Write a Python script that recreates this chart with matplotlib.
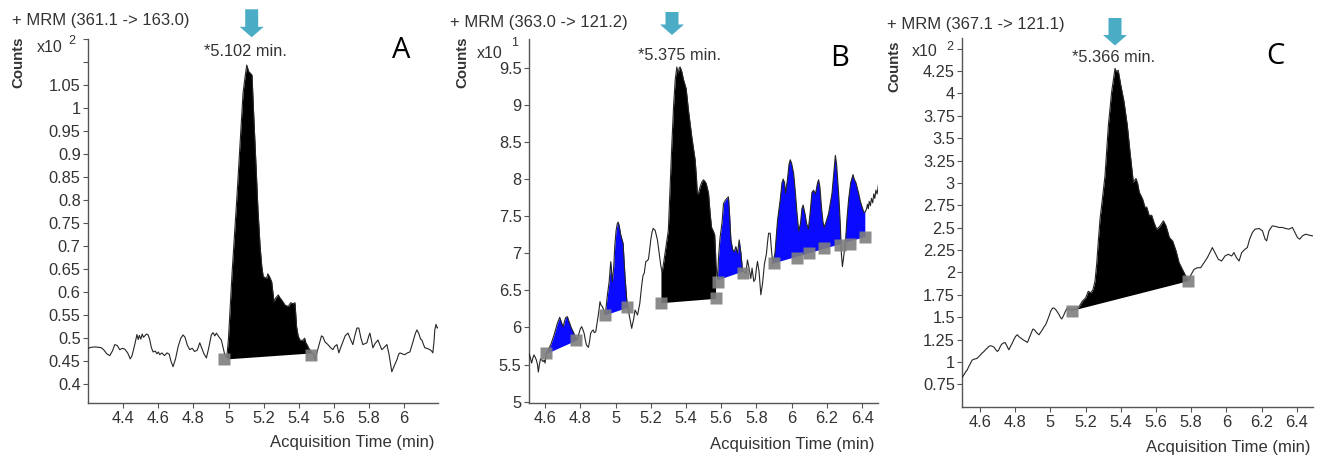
import numpy as np
import matplotlib
matplotlib.use('Agg')
import matplotlib.pyplot as plt
from matplotlib.patches import Polygon

plt.rcParams['font.family'] = ['Liberation Sans', 'DejaVu Sans']

# Figure size in pixels (dpi 100)
W, H = 1322, 458

# ---------------- Panel A : + MRM (361.1 -> 163.0) ----------------
a_time = [4.200, 4.215, 4.240, 4.262, 4.276, 4.290, 4.306, 4.323, 4.338, 4.352,
          4.366, 4.380, 4.395, 4.409, 4.425, 4.440, 4.450, 4.465, 4.478, 4.485,
          4.492, 4.500, 4.508, 4.515, 4.523, 4.532, 4.542, 4.550, 4.560, 4.570,
          4.582, 4.592, 4.600, 4.608, 4.620, 4.635, 4.650, 4.662, 4.672, 4.684,
          4.698, 4.713, 4.728, 4.741, 4.752, 4.765, 4.779, 4.793, 4.807, 4.822,
          4.836, 4.848, 4.860, 4.874, 4.888, 4.902, 4.912, 4.922, 4.931, 4.945,
          4.959, 4.970, 4.980, 4.990,
          5.000, 5.009, 5.020, 5.037, 5.050, 5.066, 5.083, 5.095, 5.104, 5.115,
          5.123, 5.134, 5.142, 5.151, 5.160, 5.168, 5.180, 5.190, 5.198, 5.208,
          5.217, 5.224, 5.232, 5.246, 5.259, 5.270, 5.284, 5.293, 5.303, 5.312,
          5.322, 5.341, 5.354, 5.368, 5.379, 5.388, 5.397, 5.407, 5.422, 5.434,
          5.441, 5.449, 5.457, 5.464, 5.475, 5.483, 5.493,
          5.505, 5.521, 5.530, 5.538, 5.550, 5.567, 5.580, 5.595, 5.605, 5.618,
          5.629, 5.640, 5.652, 5.665, 5.681, 5.695, 5.709, 5.720, 5.732, 5.743,
          5.755, 5.766, 5.778, 5.789, 5.800, 5.806, 5.815, 5.823, 5.835, 5.852,
          5.863, 5.874, 5.888, 5.903, 5.915, 5.931, 5.945, 5.960, 5.970, 5.977,
          5.990, 6.005, 6.020, 6.034, 6.050, 6.065, 6.074, 6.085, 6.095, 6.102,
          6.110, 6.119, 6.130, 6.148, 6.158, 6.165, 6.172, 6.176, 6.183, 6.190,
          6.196]
a_counts = [0.478, 0.480, 0.481, 0.480, 0.479, 0.474, 0.466, 0.462, 0.472, 0.486,
            0.484, 0.475, 0.478, 0.476, 0.468, 0.455, 0.462, 0.485, 0.508, 0.497,
            0.506, 0.498, 0.509, 0.502, 0.505, 0.509, 0.507, 0.498, 0.480, 0.470,
            0.472, 0.466, 0.470, 0.464, 0.468, 0.462, 0.468, 0.465, 0.450, 0.438,
            0.455, 0.482, 0.500, 0.507, 0.502, 0.485, 0.475, 0.478, 0.471, 0.474,
            0.490, 0.478, 0.466, 0.457, 0.480, 0.507, 0.512, 0.505, 0.511, 0.503,
            0.496, 0.478, 0.462, 0.458,
            0.500, 0.562, 0.640, 0.742, 0.820, 0.925, 1.034, 1.070, 1.094, 1.080,
            1.077, 1.072, 1.000, 0.925, 0.850, 0.779, 0.700, 0.655, 0.634, 0.632,
            0.630, 0.640, 0.635, 0.623, 0.580, 0.588, 0.594, 0.588, 0.583, 0.578,
            0.572, 0.569, 0.577, 0.575, 0.577, 0.525, 0.505, 0.496, 0.495, 0.500,
            0.490, 0.485, 0.478, 0.475, 0.468, 0.467, 0.453,
            0.470, 0.492, 0.505, 0.503, 0.492, 0.486, 0.480, 0.475, 0.482, 0.486,
            0.468, 0.480, 0.492, 0.505, 0.511, 0.498, 0.486, 0.505, 0.522, 0.522,
            0.500, 0.486, 0.488, 0.490, 0.505, 0.511, 0.495, 0.479, 0.488, 0.496,
            0.485, 0.475, 0.480, 0.486, 0.465, 0.427, 0.440, 0.453, 0.465, 0.468,
            0.466, 0.464, 0.468, 0.470, 0.490, 0.510, 0.518, 0.510, 0.498, 0.496,
            0.488, 0.479, 0.478, 0.475, 0.472, 0.468, 0.495, 0.518, 0.530, 0.522,
            0.524]
# integrated peaks: start, end, baseline at start, baseline at end, colour
a_peaks = [(4.990, 5.475, 0.455, 0.468, 'black')]
a_marker_time = [4.977, 5.468]
a_marker_counts = [0.455, 0.464]

# ---------------- Panel B : + MRM (363.0 -> 121.2) ----------------
b_time = [4.509, 4.516, 4.524, 4.530, 4.537, 4.544, 4.551, 4.557, 4.562, 4.568,
          4.575, 4.582, 4.589, 4.595, 4.600, 4.607,
          4.613, 4.622, 4.632, 4.651, 4.670, 4.683, 4.689, 4.695, 4.704, 4.710,
          4.717, 4.727, 4.733, 4.740, 4.748, 4.755, 4.768, 4.778,
          4.785, 4.793, 4.800, 4.808, 4.815, 4.822, 4.828, 4.835, 4.846, 4.852,
          4.859, 4.866, 4.873, 4.880, 4.888, 4.895, 4.901, 4.907, 4.912, 4.918,
          4.926, 4.932, 4.940,
          4.945, 4.954, 4.964, 4.973, 4.982, 4.990, 4.996, 5.003, 5.010, 5.015,
          5.020, 5.030, 5.043, 5.054, 5.064, 5.070,
          5.077, 5.083, 5.092, 5.097, 5.102, 5.111, 5.118, 5.125, 5.132, 5.138,
          5.149, 5.156, 5.163, 5.172, 5.180, 5.187, 5.194, 5.200, 5.207, 5.214,
          5.220, 5.225, 5.232, 5.238, 5.248, 5.253,
          5.258, 5.265, 5.275, 5.290, 5.300, 5.310, 5.320, 5.330, 5.339, 5.348,
          5.352, 5.357, 5.362, 5.367, 5.376, 5.386, 5.401, 5.414, 5.433, 5.452,
          5.460, 5.464, 5.470, 5.481, 5.490, 5.499, 5.507, 5.515, 5.528, 5.537,
          5.545, 5.555, 5.563, 5.568,
          5.575, 5.579, 5.585, 5.593, 5.605, 5.613, 5.625, 5.632, 5.641, 5.648,
          5.655, 5.665, 5.674, 5.683, 5.693, 5.702, 5.712, 5.721,
          5.730, 5.740, 5.749, 5.758, 5.768, 5.775, 5.785, 5.793, 5.800, 5.806,
          5.815, 5.825, 5.835, 5.845, 5.857, 5.863, 5.869, 5.878, 5.885, 5.893,
          5.905, 5.911, 5.920, 5.935, 5.945, 5.952, 5.960, 5.965, 5.976, 5.985,
          5.992, 6.000, 6.011, 6.020, 6.030, 6.040, 6.050, 6.058, 6.065, 6.077,
          6.085, 6.095, 6.105, 6.115, 6.124, 6.135, 6.147, 6.153, 6.160, 6.170,
          6.178, 6.185, 6.195, 6.210, 6.229, 6.240, 6.248, 6.255, 6.261, 6.268,
          6.276, 6.282, 6.288, 6.295, 6.305, 6.315, 6.323, 6.335, 6.348, 6.355,
          6.365, 6.380, 6.390, 6.399, 6.410, 6.418,
          6.425, 6.430, 6.435, 6.440, 6.447, 6.453, 6.460, 6.466, 6.472, 6.478,
          6.485, 6.492]
b_counts = [5.65, 5.60, 5.52, 5.58, 5.63, 5.60, 5.56, 5.50, 5.40, 5.50,
            5.58, 5.56, 5.54, 5.56, 5.52, 5.65,
            5.674, 5.72, 5.764, 5.898, 6.056, 6.137, 6.10, 6.056, 6.011, 6.08,
            6.132, 6.146, 6.10, 6.056, 6.00, 5.966, 5.898, 5.831,
            5.86, 5.921, 5.98, 6.011, 5.97, 5.921, 5.84, 5.764, 5.732, 5.80,
            5.921, 5.95, 5.966, 5.93, 5.943, 6.05, 6.146, 6.25, 6.348, 6.30,
            6.28, 6.24, 6.18,
            6.235, 6.438, 6.617, 6.887, 6.617, 6.82, 7.10, 7.30, 7.40, 7.42,
            7.38, 7.246, 7.134, 6.685, 6.37, 6.28,
            6.18, 6.10, 5.988, 6.05, 6.10, 6.235, 6.20, 6.168, 6.25, 6.325,
            6.572, 6.70, 6.73, 6.887, 6.90, 6.92, 7.05, 7.18, 7.28, 7.336,
            7.32, 7.31, 7.24, 7.18, 7.00, 6.90,
            6.82, 6.75, 6.90, 7.15, 7.31, 7.90, 8.48, 9.00, 9.34, 9.51,
            9.45, 9.44, 9.50, 9.51, 9.45, 9.34, 9.22, 8.93, 8.57, 8.26,
            8.00, 7.81, 7.80, 7.90, 7.96, 7.99, 7.97, 7.94, 7.81, 7.54,
            7.35, 7.30, 7.25, 7.00,
            6.70, 6.66, 6.95, 7.20, 7.42, 7.67, 7.72, 7.74, 7.76, 7.50,
            7.18, 7.05, 7.02, 7.09, 7.00, 7.18, 7.00, 6.77,
            6.75, 6.73, 6.91, 6.80, 6.66, 6.80, 6.62, 6.65, 6.80, 6.89,
            6.75, 6.44, 6.60, 6.85, 7.00, 7.15, 7.27, 7.27, 7.05, 6.86,
            7.00, 7.18, 7.45, 7.72, 7.95, 8.00, 7.95, 7.81, 7.99, 8.20,
            8.26, 8.21, 8.08, 7.85, 7.55, 7.30, 7.40, 7.60, 7.65, 7.52,
            7.40, 7.33, 7.55, 7.82, 7.85, 7.80, 7.95, 7.99, 7.90, 7.60,
            7.42, 7.35, 7.42, 7.54, 7.81, 8.10, 8.32, 8.20, 8.00, 7.75,
            7.40, 7.00, 6.82, 6.95, 7.15, 7.50, 7.72, 7.95, 8.06, 8.00,
            7.95, 7.81, 7.70, 7.63, 7.55, 7.56,
            7.60, 7.66, 7.60, 7.70, 7.64, 7.74, 7.68, 7.80, 7.74, 7.85,
            7.80, 7.92]
b_peaks = [(4.607, 4.778, 5.65, 5.831, '#0a0aff'),
           (4.940, 5.070, 6.17, 6.275, '#0a0aff'),
           (5.258, 5.568, 6.334, 6.393, 'black'),
           (5.575, 5.721, 6.64, 6.76, '#0a0aff'),
           (5.893, 6.418, 6.86, 7.22, '#0a0aff')]
b_marker_time = [4.604, 4.774, 4.941, 5.068, 5.257, 5.570, 5.579, 5.721,
                 5.901, 6.030, 6.096, 6.181, 6.276, 6.333, 6.418]
b_marker_counts = [5.651, 5.831, 6.168, 6.271, 6.334, 6.393, 6.617, 6.730,
                   6.864, 6.930, 6.999, 7.067, 7.110, 7.130, 7.220]

# ---------------- Panel C : + MRM (367.1 -> 121.1) ----------------
c_time = [4.499, 4.508, 4.518, 4.527, 4.536, 4.546, 4.555, 4.565, 4.575, 4.584,
          4.593, 4.603, 4.612, 4.622, 4.632, 4.641, 4.650, 4.660, 4.670, 4.679,
          4.688, 4.698, 4.705, 4.712, 4.720, 4.726, 4.734, 4.742, 4.750, 4.757,
          4.764, 4.772, 4.783, 4.792, 4.802, 4.812, 4.822, 4.831, 4.840, 4.850,
          4.860, 4.869, 4.878, 4.887, 4.894, 4.901, 4.908, 4.916, 4.925, 4.935,
          4.944, 4.954, 4.963, 4.973, 4.980, 4.988, 4.995, 5.001, 5.008, 5.014,
          5.022, 5.030, 5.040, 5.049, 5.056, 5.064, 5.070, 5.077, 5.086, 5.096,
          5.105, 5.115, 5.124, 5.134, 5.140, 5.147,
          5.162, 5.181, 5.200, 5.215, 5.229, 5.242, 5.253, 5.263, 5.272, 5.282,
          5.291, 5.310, 5.329, 5.348, 5.367, 5.376, 5.385, 5.400, 5.418, 5.437,
          5.452, 5.471, 5.486, 5.495, 5.505, 5.524, 5.537, 5.547, 5.562, 5.575,
          5.590, 5.604, 5.623, 5.642, 5.657, 5.676, 5.695, 5.714, 5.731, 5.750,
          5.769, 5.785,
          5.797, 5.816, 5.835, 5.854, 5.873, 5.892, 5.911, 5.920, 5.935, 5.954,
          5.973, 5.992, 6.011, 6.030, 6.043, 6.057, 6.072, 6.087, 6.106, 6.119,
          6.132, 6.148, 6.163, 6.186, 6.205, 6.220, 6.229, 6.242, 6.261, 6.280,
          6.299, 6.318, 6.337, 6.356, 6.375, 6.385, 6.404, 6.417, 6.432, 6.451,
          6.470, 6.489]
c_counts = [0.83, 0.855, 0.89, 0.911, 0.95, 0.986, 1.02, 1.031, 1.035, 1.042,
            1.06, 1.08, 1.10, 1.117, 1.14, 1.154, 1.175, 1.181, 1.175, 1.166,
            1.14, 1.117, 1.13, 1.16, 1.19, 1.203, 1.212, 1.218, 1.19, 1.16,
            1.136, 1.17, 1.211, 1.25, 1.286, 1.304, 1.28, 1.267, 1.255, 1.241,
            1.23, 1.218, 1.26, 1.304, 1.34, 1.368, 1.36, 1.342, 1.32, 1.304,
            1.33, 1.36, 1.39, 1.417, 1.45, 1.492, 1.53, 1.566, 1.59, 1.604,
            1.60, 1.585, 1.555, 1.529, 1.50, 1.48, 1.50, 1.529, 1.57, 1.604,
            1.595, 1.585, 1.575, 1.592, 1.585, 1.59,
            1.615, 1.679, 1.716, 1.79, 1.772, 1.81, 1.90, 2.10, 2.35, 2.60,
            2.75, 3.08, 3.64, 4.02, 4.28, 4.24, 4.26, 4.09, 3.91, 3.64,
            3.35, 3.01, 3.05, 3.00, 2.896, 2.82, 2.73, 2.73, 2.633, 2.64,
            2.55, 2.483, 2.52, 2.577, 2.52, 2.39, 2.35, 2.24, 2.11, 2.035,
            1.96, 1.91,
            1.966, 2.035, 2.053, 2.053, 2.11, 2.166, 2.24, 2.278, 2.222, 2.147,
            2.128, 2.184, 2.203, 2.184, 2.222, 2.166, 2.128, 2.222, 2.26, 2.278,
            2.372, 2.447, 2.484, 2.491, 2.465, 2.372, 2.353, 2.465, 2.521, 2.514,
            2.503, 2.503, 2.491, 2.484, 2.503, 2.465, 2.39, 2.372, 2.409, 2.428,
            2.417, 2.409]
c_peaks = [(5.147, 5.785, 1.59, 1.91, 'black')]
c_marker_time = [5.121, 5.784]
c_marker_counts = [1.566, 1.903]

TEXT = '#333333'
AXIS = '#555555'


def px_axes(fig, left, top, right, bottom):
    # axes box given in reference pixels
    return fig.add_axes([left / W, 1 - bottom / H, (right - left) / W, (bottom - top) / H])


def ftext(fig, x, y, s, **kw):
    return fig.text(x / W, 1 - y / H, s, **kw)


def arrow(fig, cx, top, tip, shaft=6.5, head=12.0, head_len=10.5):
    pts = [(cx - shaft, top), (cx + shaft, top), (cx + shaft, tip - head_len),
           (cx + head, tip - head_len), (cx, tip), (cx - head, tip - head_len),
           (cx - shaft, tip - head_len)]
    pts = [(x / W, 1 - y / H) for x, y in pts]
    fig.patches.append(Polygon(pts, closed=True, transform=fig.transFigure,
                               facecolor='#4bacc6', edgecolor='none'))


def draw_panel(ax, t, y, peaks, mk_t, mk_y, xlim, ylim, xticks, yticks, ylabels):
    t = np.asarray(t)
    y = np.asarray(y)
    for t0, t1, b0, b1, col in peaks:
        m = (t >= t0 - 1e-9) & (t <= t1 + 1e-9)
        base = b0 + (t[m] - t0) * (b1 - b0) / (t1 - t0)
        ax.fill_between(t[m], y[m], base, where=y[m] >= base, interpolate=True,
                        color=col, lw=0, zorder=2)
    ax.plot(t, y, color='#262626', lw=0.8, zorder=3)
    ax.plot(mk_t, mk_y, 's', ms=8.8, color='#7f7f7f', mec='none', alpha=0.9, zorder=4)

    ax.set_xlim(*xlim)
    ax.set_ylim(*ylim)
    ax.set_xticks(xticks)
    ax.set_xticklabels(['%g' % v for v in xticks])
    ax.set_yticks(yticks)
    ax.set_yticklabels(ylabels)
    for s in ['top', 'right']:
        ax.spines[s].set_visible(False)
    for s in ['left', 'bottom']:
        ax.spines[s].set_color(AXIS)
        ax.spines[s].set_linewidth(1.0)
    ax.tick_params(axis='both', direction='out', length=3.8, width=0.8, color=AXIS,
                   labelcolor=TEXT, labelsize=11.8)
    ax.tick_params(axis='y', pad=1.5)
    ax.tick_params(axis='x', pad=2)


fig = plt.figure(figsize=(W / 100, H / 100), dpi=100)
fig.patch.set_facecolor('white')

# ----- A -----
axA = px_axes(fig, 88, 39, 438.3, 403)
a_yt = [round(0.40 + 0.05 * i, 2) for i in range(16)]
a_yl = ['%g' % v if v <= 1.05 else '' for v in a_yt]
draw_panel(axA, a_time, a_counts, a_peaks, a_marker_time, a_marker_counts,
           (4.199, 6.196), (0.359, 1.1507),
           [4.4, 4.6, 4.8, 5.0, 5.2, 5.4, 5.6, 5.8, 6.0], a_yt, a_yl)

# ----- B -----
axB = px_axes(fig, 529, 39, 878, 403)
b_yt = [5 + 0.5 * i for i in range(10)]
draw_panel(axB, b_time, b_counts, b_peaks, b_marker_time, b_marker_counts,
           (4.509, 6.49), (4.982, 9.888),
           [4.6, 4.8, 5.0, 5.2, 5.4, 5.6, 5.8, 6.0, 6.2, 6.4], b_yt,
           ['%g' % v for v in b_yt])

# ----- C -----
axC = px_axes(fig, 962.3, 38, 1313.3, 406.7)
c_yt = [round(0.75 + 0.25 * i, 2) for i in range(16)]
c_yl = ['%g' % v if v <= 4.25 else '' for v in c_yt]
draw_panel(axC, c_time, c_counts, c_peaks, c_marker_time, c_marker_counts,
           (4.499, 6.494), (0.50, 4.62),
           [4.6, 4.8, 5.0, 5.2, 5.4, 5.6, 5.8, 6.0, 6.2, 6.4], c_yt, c_yl)

# ----- text decorations -----
panels = [
    # title, title pos, counts pos, x10 pos, exponent, exp pos, letter, letter pos,
    # rt label, rt pos, arrow (cx, top, tip), xlabel right/y
    ('+ MRM (361.1 -> 163.0)', (12, 20), (18, 62), (37, 47.5), '2', (68, 40.5),
     'A', (401, 51), '*5.102 min.', (245, 52), (251.7, 9.3, 37.3), (435, 443)),
    ('+ MRM (363.0 -> 121.2)', (450, 22), (462, 62), (477, 53), '1', (511, 43),
     'B', (840, 59), '*5.375 min.', (680, 55), (672.0, 12.0, 35.0), (875, 444)),
    ('+ MRM (367.1 -> 121.1)', (887, 25), (894, 66), (912, 51.5), '2', (946, 47),
     'C', (1275, 57), '*5.366 min.', (1114, 57), (1115.0, 18.0, 45.5), (1310, 447.5)),
]
for (title, tp, cp, xp, ex, ep, let, lp, rt, rp, ar, xl) in panels:
    ftext(fig, tp[0], tp[1], title, ha='left', va='center', fontsize=12, color=TEXT)
    ftext(fig, cp[0], cp[1], 'Counts', ha='center', va='center', rotation=90,
          fontsize=10.8, fontweight='bold', color=TEXT)
    ftext(fig, xp[0], xp[1], 'x10', ha='left', va='center', fontsize=11.5, color=TEXT)
    ftext(fig, ep[0], ep[1], ex, ha='left', va='center', fontsize=9, color=TEXT)
    ftext(fig, lp[0], lp[1], let, ha='center', va='center', fontsize=21,
          family=['Open Sans', 'DejaVu Sans'], color='black')
    ftext(fig, rp[0], rp[1], rt, ha='center', va='center', fontsize=11.8, color=TEXT)
    arrow(fig, ar[0], ar[1], ar[2])
    ftext(fig, xl[0], xl[1], 'Acquisition Time (min)', ha='right', va='center',
          fontsize=12, color=TEXT)

fig.savefig('out.png', dpi=100)
